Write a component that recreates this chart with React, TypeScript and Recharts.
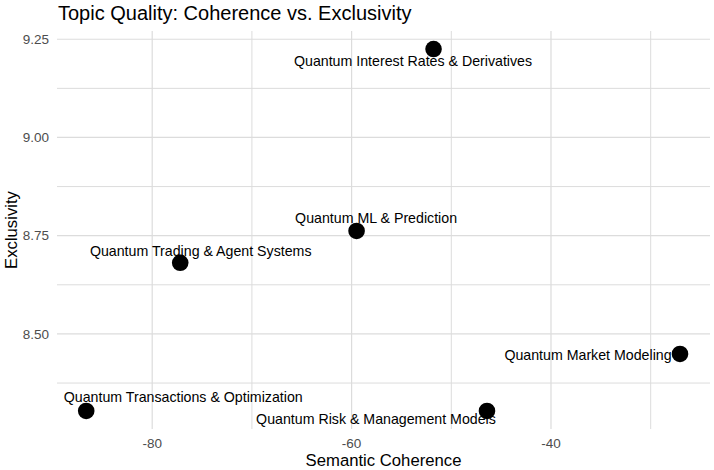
import { ScatterChart, Scatter, XAxis, YAxis, ReferenceLine } from "recharts";

const topics = [
  "Quantum Interest Rates & Derivatives",
  "Quantum ML & Prediction",
  "Quantum Trading & Agent Systems",
  "Quantum Market Modeling",
  "Quantum Transactions & Optimization",
  "Quantum Risk & Management Models",
];
const coherence = [-51.78, -59.5, -77.19, -27.06, -86.62, -46.42];
const exclusivity = [9.225, 8.762, 8.681, 8.449, 8.304, 8.304];

const xTicks = [-80, -60, -40];
const xMinor = [-70, -50, -30];
const yTicks = [8.5, 8.75, 9.0, 9.25];
const yMinor = [8.375, 8.625, 8.875, 9.125];

// repelled label placement, relative to each dot (px)
const labelShift: Record<string, [number, number]> = {
  "Quantum Interest Rates & Derivatives": [-20.5, 12],
  "Quantum ML & Prediction": [19.5, -12.5],
  "Quantum Trading & Agent Systems": [20.5, -11.5],
  "Quantum Market Modeling": [-92, 1],
  "Quantum Transactions & Optimization": [97, -14],
  "Quantum Risk & Management Models": [-111, 8],
};

const FONT = "'Liberation Sans', Arial, Helvetica, sans-serif";
const GRID = "#dcdcdc";

const points = topics.map((topic, i) => ({
  topic,
  coherence: coherence[i],
  exclusivity: exclusivity[i],
}));

function TopicDot(props: any) {
  const { cx, cy, payload } = props;
  const [dx, dy] = labelShift[payload.topic] ?? [0, -12];
  return (
    <g>
      <circle cx={cx} cy={cy} r={8.3} fill="#000" />
      <text
        x={cx + dx}
        y={cy + dy}
        textAnchor="middle"
        dominantBaseline="central"
        fontSize={14.2}
        fontFamily={FONT}
        fill="#000"
      >
        {payload.topic}
      </text>
    </g>
  );
}

export default function App() {
  return (
    <div style={{ position: "absolute", left: 0, top: 0, width: 714, height: 470, background: "#fff" }}>
      <ScatterChart
        width={714}
        height={470}
        margin={{ top: 31, right: 4, left: 0, bottom: 0 }}
      >
        {/* major and minor grid, no panel border */}
        {[...xTicks, ...xMinor].map((v) => (
          <ReferenceLine key={"x" + v} x={v} stroke={GRID} strokeWidth={xTicks.includes(v) ? 1.2 : 1} />
        ))}
        {[...yTicks, ...yMinor].map((v) => (
          <ReferenceLine key={"y" + v} y={v} stroke={GRID} strokeWidth={yTicks.includes(v) ? 1.2 : 1} />
        ))}
        <XAxis
          type="number"
          dataKey="coherence"
          domain={[-89.55, -24.05]}
          allowDataOverflow
          ticks={xTicks}
          axisLine={false}
          tickLine={false}
          tickSize={0}
          tickMargin={9}
          height={41}
          tick={{ fontSize: 13.5, fill: "#4d4d4d", fontFamily: FONT }}
        />
        <YAxis
          type="number"
          dataKey="exclusivity"
          domain={[8.258, 9.271]}
          allowDataOverflow
          ticks={yTicks}
          tickFormatter={(v: number) => v.toFixed(2)}
          axisLine={false}
          tickLine={false}
          tickSize={0}
          tickMargin={8}
          width={57}
          tick={{ fontSize: 13.5, fill: "#4d4d4d", fontFamily: FONT }}
        />
        <Scatter data={points} shape={TopicDot} isAnimationActive={false} />
      </ScatterChart>
      <svg
        width={714}
        height={470}
        style={{ position: "absolute", left: 0, top: 0, pointerEvents: "none" }}
      >
        <text x={58} y={19.5} fontSize={20} fontFamily={FONT} fill="#000">
          Topic Quality: Coherence vs. Exclusivity
        </text>
        <text x={383.5} y={466} textAnchor="middle" fontSize={16.7} fontFamily={FONT} fill="#000">
          Semantic Coherence
        </text>
        <text
          transform="translate(17,230) rotate(-90)"
          textAnchor="middle"
          fontSize={16.7}
          fontFamily={FONT}
          fill="#000"
        >
          Exclusivity
        </text>
      </svg>
    </div>
  );
}
